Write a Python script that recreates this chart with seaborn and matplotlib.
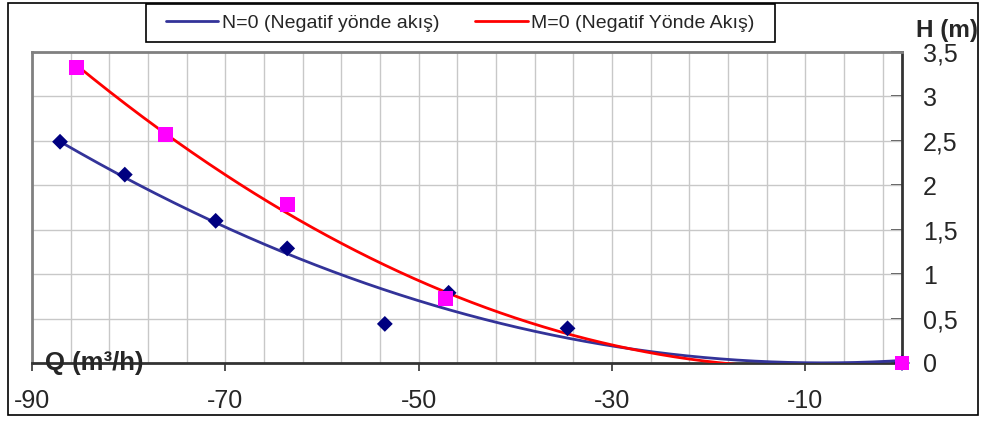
import numpy as np
import pandas as pd
import matplotlib
matplotlib.use("Agg")
import matplotlib.pyplot as plt
import seaborn as sns
from matplotlib.lines import Line2D
from matplotlib.patches import Rectangle

# ---- data ----
q_n = [-87.1, -80.4, -71.0, -63.6, -53.5, -46.9, -34.6, 0.0]
h_n = [2.49, 2.12, 1.60, 1.29, 0.44, 0.79, 0.39, 0.0]
q_m = [-85.4, -76.2, -63.6, -47.2, 0.0]
h_m = [3.33, 2.57, 1.78, 0.73, 0.0]
label_n = "N=0 (Negatif yönde akış)"
label_m = "M=0 (Negatif Yönde Akış)"
xticks = [-90, -70, -50, -30, -10]
yticks = [0, 0.5, 1, 1.5, 2, 2.5, 3, 3.5]
ytick_labels = ["0", "0,5", "1", "1,5", "2", "2,5", "3", "3,5"]

sns.set_style("white")
plt.rcParams["font.family"] = ["Liberation Sans", "DejaVu Sans"]

fig = plt.figure(figsize=(9.83, 4.21), dpi=100)
W, H = 983, 421
ax = fig.add_axes([32 / W, 1 - 363 / H, (902 - 32) / W, (363 - 52) / H])

# polynomial (order 2) trendlines over each series' data range
xs_n = np.linspace(min(q_n), max(q_n), 400)
xs_m = np.linspace(min(q_m), max(q_m), 400)
cn = np.polyfit(q_n, h_n, 2)
cm = np.polyfit(q_m, h_m, 2)
trend = pd.DataFrame({"Q": np.concatenate([xs_n, xs_m]),
                      "H": np.concatenate([np.polyval(cn, xs_n), np.polyval(cm, xs_m)]),
                      "s": [label_n] * len(xs_n) + [label_m] * len(xs_m)})
sns.lineplot(data=trend, x="Q", y="H", hue="s", palette={label_n: "#333399", label_m: "#ff0000"},
             lw=2, ax=ax, legend=False, zorder=3)

dn = pd.DataFrame({"Q": q_n, "H": h_n})
dm = pd.DataFrame({"Q": q_m, "H": h_m})
sns.scatterplot(data=dn, x="Q", y="H", marker="D", s=65, color="#000080", edgecolor="none",
                ax=ax, zorder=4, clip_on=False)
sns.scatterplot(data=dm, x="Q", y="H", marker="s", s=115, color="#ff00ff", edgecolor="none",
                ax=ax, zorder=5, clip_on=False)

ax.set_xlim(-90, 0)
ax.set_ylim(0, 3.5)
ax.set_xlabel("")
ax.set_ylabel("")

# grid
for gx in np.arange(-90, 0, 4):
    ax.axvline(gx, color="#c8c8c8", lw=1, zorder=1)
for gy in yticks:
    ax.axhline(gy, color="#c8c8c8", lw=1, zorder=1)

ax.set_xticks(xticks)
ax.set_xticklabels([str(t) for t in xticks])
ax.yaxis.tick_right()
ax.set_yticks(yticks)
ax.set_yticklabels(ytick_labels)
ax.tick_params(axis="x", direction="out", length=6, width=1.2, color="#333333",
               labelsize=18, pad=13, bottom=True)
ax.tick_params(axis="y", direction="in", length=8, width=1.2, color="#333333",
               labelsize=18, pad=15, right=True, left=False)
for lab in ax.get_yticklabels():
    lab.set_horizontalalignment("left")

for side in ["left", "top"]:
    ax.spines[side].set_color("#808080")
    ax.spines[side].set_linewidth(2)
for side in ["bottom", "right"]:
    ax.spines[side].set_color("#333333")
    ax.spines[side].set_linewidth(2)

# axis titles
fig.text(947 / W, 1 - 30 / H, "H (m)", fontsize=17.5, fontweight="bold", ha="center", va="center")
fig.text(45 / W, 1 - 363 / H, "Q (m³/h)", fontsize=18.5, fontweight="bold", ha="left", va="center")

# legend box
fig.patches.append(Rectangle((146 / W, 1 - 42 / H), (775 - 146) / W, (42 - 4) / H,
                             transform=fig.transFigure, facecolor="white", edgecolor="black",
                             lw=1.2, zorder=5))
handles = [Line2D([], [], color="#333399", lw=2), Line2D([], [], color="#ff0000", lw=2)]
leg = fig.legend(handles, [label_n, label_m], loc="center left",
                 bbox_to_anchor=(166 / W, 1 - 23 / H), ncol=2, fontsize=14,
                 frameon=False, handlelength=2.68, columnspacing=1.85, handletextpad=0.2,
                 borderpad=0, borderaxespad=0)
leg.set_zorder(6)

# outer frame
fig.patches.append(Rectangle((8 / W, 1 - 415 / H), (978 - 8) / W, (415 - 3) / H,
                             transform=fig.transFigure, fill=False, edgecolor="black", lw=1.2))

fig.savefig("out.png", dpi=100)
